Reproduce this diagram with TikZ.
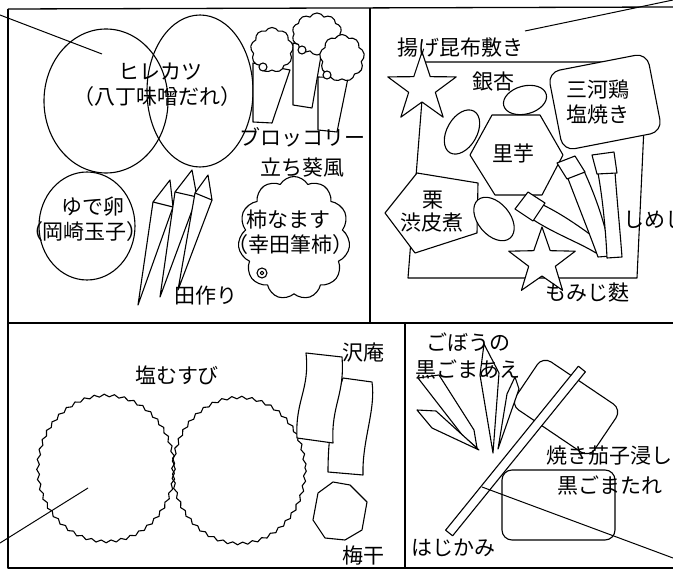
\documentclass[tikz,border=0pt]{standalone}
\usepackage{fontspec}
\newfontfamily\jpfont{Noto Sans CJK JP}
\usetikzlibrary{shapes.symbols,decorations.pathmorphing}
\begin{document}
\begin{tikzpicture}[x=1pt,y=-1pt,line width=1.1pt,line join=round,
  lbl/.style={font=\jpfont\fontsize{21}{24}\selectfont,inner sep=0pt},
  food/.style={draw=black,fill=white},
  frameline/.style={draw=black,line width=1.3pt},
  leader/.style={draw=black,line width=1pt},
  wavy/.style={draw=black,decorate,decoration={snake,amplitude=1.3pt,segment length=10pt}},
  puff/.style={food,cloud,cloud puffs=#1,cloud puff arc=120,aspect=1,inner sep=0pt},
]
\useasboundingbox (0,0) rectangle (673,572);
\fill[white] (0,0) rectangle (673,572);
\clip (0,0) rectangle (673,572);

% ---------- frame of the four compartments ----------
\draw[frameline] (8,9) -- (673,7);
\draw[frameline] (8,9) -- (8,568) -- (673,568);
\draw[frameline] (370,8) -- (370,323);
\draw[frameline] (8,323) -- (673,323);
\draw[frameline] (405,323) -- (405,568);

% ---------- top left: hirekatsu, egg, broccoli, tazukuri, kaki ----------
\draw (106,101) ellipse [x radius=62, y radius=72];
\draw (200,91) ellipse [x radius=53, y radius=76];
\node[lbl] (hire) at (160,72) {ヒレカツ};
\node[lbl] (hiresub) at (158,97) {（八丁味噌だれ）};

% egg
\draw (87,226) ellipse [x radius=48, y radius=54];
\node[lbl] (egg) at (93,207) {ゆで卵};
\node[lbl] (eggsub) at (85,232) {（岡崎玉子）};

% broccoli: stem, floret, small bud
\draw[food] (253,63) -- (290,70) -- (272,123) -- (253,122) -- cycle;
\node[puff=9,minimum width=43pt,minimum height=45pt] (br1) at (272,50) {};
\draw[food] (263,67) circle [radius=4];
\draw[food] (293,43) -- (322,50) -- (312,108) -- (293,105) -- cycle;
\node[puff=10,minimum width=50pt,minimum height=42pt] (br2) at (317,34) {};
\draw[food] (302,50) circle [radius=4];
\draw[food] (318,77) -- (348,78) -- (337,132) -- (318,130) -- cycle;
\node[puff=9,minimum width=45pt,minimum height=47pt] (br3) at (342,58) {};
\draw[food] (327,75) circle [radius=4];
\node[lbl] (broc) at (302,137) {ブロッコリー};
\node[lbl] (broc2) at (302,168) {立ち葵風};

% tazukuri (small dried fish)
\draw[food] (153,202) -- (138,305) -- (173,207);
\draw[food] (153,202) -- (170,180) -- (173,207) -- cycle;
\draw[food] (175,192) -- (160,297) -- (197,197);
\draw[food] (175,192) -- (192,170) -- (197,197) -- cycle;
\draw[food] (195,193) -- (178,290) -- (212,200);
\draw[food] (195,193) -- (208,175) -- (212,200) -- cycle;
\node[lbl] (tazu) at (206,296) {田作り};

% kaki namasu
\node[puff=11,minimum width=112pt,minimum height=123pt] (kaki) at (294,238) {};
\draw[food] (262,273) circle [radius=5];
\draw (262,273) circle [radius=1.8];
\node[lbl] (kakit) at (288,220) {柿なます};
\node[lbl] (kakisub) at (290,245) {（幸田筆柿）};

% ---------- top right: konbu sheet and its toppings ----------
\draw (425,62) -- (647,62) -- (637,278) -- (408,278) -- cycle;
\begin{scope}[shift={(422,88)}]
  \draw[food] (-90:36) -- (-54:14) -- (-18:36) -- (18:14) -- (54:36) -- (90:14)
    -- (126:36) -- (162:14) -- (198:36) -- (234:14) -- cycle;
\end{scope}
\draw[food] (492,115) -- (540,115) -- (563,155) -- (542,195) -- (495,195) -- (470,155) -- cycle;
\draw[food,rotate around={15:(525,100)}] (525,100) ellipse [x radius=22, y radius=14];
\draw[food,rotate around={60:(462,132)}] (462,132) ellipse [x radius=24, y radius=15];
\draw[food] (417,173) -- (478,183) -- (477,233) -- (415,253) -- (385,213) -- cycle;
\draw[food,rotate around={-50:(494,219)}] (494,219) ellipse [x radius=25, y radius=16];
\draw[food,rounded corners=12pt,rotate around={11:(605,102)}] (554.5,62) rectangle (655.5,142);

% shimeji mushrooms: stem first, cap on top
\draw[food] (532,219) .. controls (555,234) and (578,242) .. (596,253) -- (604,245)
  .. controls (585,230) and (562,214) .. (543,205) -- cycle;
\draw[food] (515,209) -- (528,192) -- (545,203) -- (533,221) -- cycle;
\draw[food] (567,176) .. controls (578,205) and (590,235) .. (598,257) -- (611,256)
  .. controls (606,225) and (595,195) .. (584,171) -- cycle;
\draw[food] (557,163) -- (575,156) -- (585,172) -- (567,179) -- cycle;
\draw[food] (598,173) .. controls (603,200) and (606,235) .. (607,258) -- (622,257)
  .. controls (620,230) and (617,200) .. (615,172) -- cycle;
\draw[food] (592,155) -- (614,152) -- (617,173) -- (597,174) -- cycle;

\begin{scope}[shift={(542,262)}]
  \draw[food] (-90:35) -- (-54:14) -- (-18:35) -- (18:14) -- (54:35) -- (90:14)
    -- (126:35) -- (162:14) -- (198:35) -- (234:14) -- cycle;
\end{scope}

\node[lbl] (konbu) at (460,48) {揚げ昆布敷き};
\node[lbl] (ginnan) at (493,82) {銀杏};
\node[lbl] (tori1) at (598,90) {三河鶏};
\node[lbl] (tori2) at (598,115) {塩焼き};
\node[lbl] (imo) at (513,153) {里芋};
\node[lbl] (kuri1) at (433,200) {栗};
\node[lbl] (kuri2) at (432,223) {渋皮煮};
\node[lbl,anchor=west] (shimeji) at (623,220) {しめじ};
\node[lbl] (momiji) at (587,293) {もみじ麩};

% ---------- bottom left: rice balls, takuan, umeboshi ----------
\draw[wavy] (106,466) ellipse [x radius=68, y radius=73];
\draw[wavy] (239,468) ellipse [x radius=66, y radius=73];
\draw[food] (343,378) .. controls (335,400) and (328,430) .. (328,472) -- (363,475)
  .. controls (362,440) and (376,410) .. (372,382) -- cycle;
\draw[food] (306,353) .. controls (310,390) and (295,400) .. (297,438) -- (333,443)
  .. controls (331,405) and (345,395) .. (342,357) -- cycle;
\draw[food] (333,482) -- (350,485) -- (367,502) -- (362,530) -- (345,540) -- (325,538)
  -- (313,520) -- (318,493) -- cycle;
\node[lbl] (onigiri) at (177,375) {塩むすび};
\node[lbl] (takuan) at (363,353) {沢庵};
\node[lbl] (ume) at (363,555) {梅干};

% ---------- bottom right: burdock, eggplant, hajikami ----------
\draw[food,rounded corners=10pt] (502,470) rectangle (615,540);
\draw[food,rounded corners=10pt,rotate around={-34:(566,407)}] (518.5,378) rectangle (613.5,436);
\draw[food] (418,378) -- (439,375) -- (474,430) -- (477,448) -- (463,436) -- cycle;
\draw[food] (417,410) -- (436,411) -- (479,450) -- (432,428) -- cycle;
\draw[food] (484,344) -- (499,373) -- (493,453) -- (480,375) -- cycle;
\draw[food] (515,377) -- (519,389) -- (498,449) -- (507,394) -- cycle;
\draw[food,rotate around={51:(515.5,451)}] (410,446.5) rectangle (621,455.5);
\node[lbl] (gobou1) at (468,342) {ごぼうの};
\node[lbl] (gobou2) at (468,370) {黒ごまあえ};
\node[lbl,anchor=west] (nasu1) at (546,456) {焼き茄子浸し};
\node[lbl] (nasu2) at (610,486) {黒ごまたれ};
\node[lbl] (hajikami) at (453,548) {はじかみ};

% ---------- leader lines ----------
\coordinate (tl) at (0,15);
\coordinate (tr) at (673,0);
\coordinate (bl) at (0,543);
\coordinate (br) at (673,558);
\coordinate (hirept) at (102,54);
\coordinate (konbupt) at (525,31);
\coordinate (onipt) at (88,488);
\coordinate (nasupt) at (482,487);
\draw[leader] (tl) -- (hirept);
\draw[leader] (tr) -- (konbupt);
\draw[leader] (bl) -- (onipt);
\draw[leader] (nasupt) -- (br);
\end{tikzpicture}
\end{document}
